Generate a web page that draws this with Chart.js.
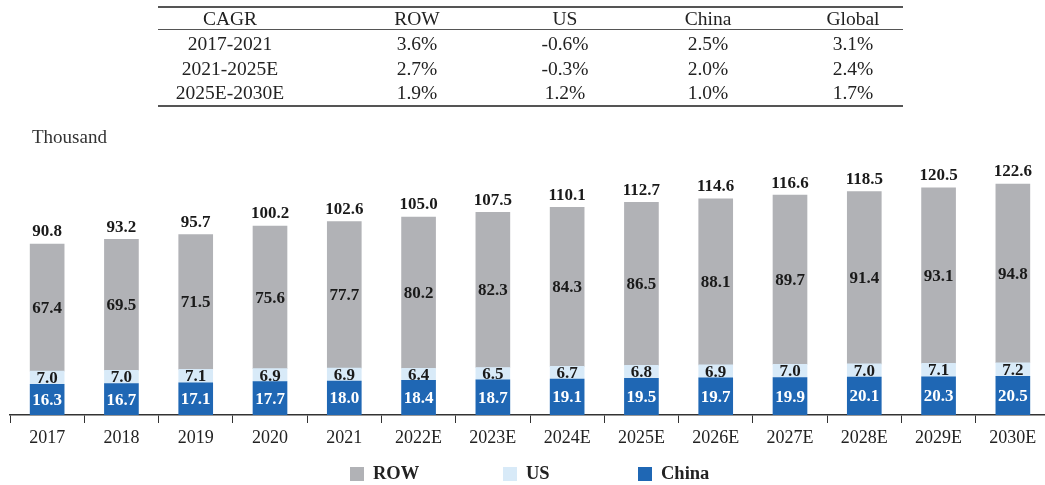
<!DOCTYPE html>
<html>
<head>
<meta charset="utf-8">
<script src="https://cdn.jsdelivr.net/npm/chart.js@4.4.1/dist/chart.umd.min.js"></script>
<style>
  html, body { margin:0; padding:0; background:#fff; overflow:hidden; width:1045px; height:485px; }
  body { position:relative; font-family:"Liberation Serif","DejaVu Serif",serif; color:#222; }
  #wrap { position:absolute; left:0; top:0; width:1052px; height:485px; }
  .cell { position:absolute; transform:translate(-50%,-50%); white-space:nowrap; font-size:19.5px; color:#222; }
  .rule { position:absolute; left:158px; width:745px; background:#555; }
  #unit { position:absolute; left:32px; top:126px; font-size:19px; color:#333; }
  .leg { position:absolute; top:463px; font-size:18.5px; font-weight:bold; color:#222; display:flex; align-items:center; }
  .leg i { display:inline-block; width:14px; height:14px; margin-right:9px; }
</style>
</head>
<body>
<div id="wrap"><canvas id="c" width="1052" height="485"></canvas></div>
<div id="tbl"></div>
<div id="unit">Thousand</div>
<div id="legend"></div>
<script>
// ---- data ----
const categories = ["2017","2018","2019","2020","2021","2022E","2023E","2024E","2025E","2026E","2027E","2028E","2029E","2030E"];
const chinaValues = [16.3,16.7,17.1,17.7,18.0,18.4,18.7,19.1,19.5,19.7,19.9,20.1,20.3,20.5];
const usValues    = [7.0,7.0,7.1,6.9,6.9,6.4,6.5,6.7,6.8,6.9,7.0,7.0,7.1,7.2];
const rowValues   = [67.4,69.5,71.5,75.6,77.7,80.2,82.3,84.3,86.5,88.1,89.7,91.4,93.1,94.8];
const totalValues = [90.8,93.2,95.7,100.2,102.6,105.0,107.5,110.1,112.7,114.6,116.6,118.5,120.5,122.6];

const cagrHeader = ["CAGR","ROW","US","China","Global"];
const cagrPeriods = ["2017-2021","2021-2025E","2025E-2030E"];
const cagrROW    = ["3.6%","2.7%","1.9%"];
const cagrUS     = ["-0.6%","-0.3%","1.2%"];
const cagrChina  = ["2.5%","2.0%","1.0%"];
const cagrGlobal = ["3.1%","2.4%","1.7%"];

// ---- table ----
const colX = [230,417,565,708,853];
const rowY = [19,44,69,93];
const tbl = document.getElementById('tbl');
function addCell(txt,x,y){ const d=document.createElement('div'); d.className='cell'; d.textContent=txt; d.style.left=x+'px'; d.style.top=y+'px'; tbl.appendChild(d); }
cagrHeader.forEach((h,i)=>addCell(h,colX[i],rowY[0]));
const cols = [cagrPeriods,cagrROW,cagrUS,cagrChina,cagrGlobal];
for(let r=0;r<3;r++) cols.forEach((col,i)=>addCell(col[r],colX[i],rowY[r+1]));
[[6,2],[29,1],[105,2]].forEach(([y,h])=>{ const d=document.createElement('div'); d.className='rule'; d.style.top=y+'px'; d.style.height=h+'px'; tbl.appendChild(d); });

// ---- legend ----
const COLORS = { ROW:'#b1b2b6', US:'#d8eaf8', China:'#1f67b4' };
const legendItems = [["ROW",350],["US",503],["China",638]];
const lg = document.getElementById('legend');
legendItems.forEach(([n,x])=>{ const d=document.createElement('div'); d.className='leg'; d.style.left=x+'px'; d.innerHTML='<i style="background:'+COLORS[n]+'"></i>'+n; lg.appendChild(d); });

// ---- labels plugin ----
const labelPlugin = {
  id:'labels',
  afterDatasetsDraw(chart){
    const ctx = chart.ctx;
    ctx.save();
    ctx.textAlign='center'; ctx.textBaseline='middle';
    chart.data.datasets.forEach((ds,di)=>{
      const meta = chart.getDatasetMeta(di);
      meta.data.forEach((bar,i)=>{
        const y = (bar.y + bar.base)/2;
        ctx.font = 'bold 17px "Liberation Serif", serif';
        ctx.fillStyle = ds.labelColor;
        ctx.fillText(ds.data[i].toFixed(1), bar.x, y+1);
      });
    });
    const top = chart.getDatasetMeta(chart.data.datasets.length-1);
    top.data.forEach((bar,i)=>{
      ctx.font = 'bold 17px "Liberation Serif", serif';
      ctx.fillStyle = '#1a1a1a';
      ctx.fillText(totalValues[i].toFixed(1), bar.x, bar.y-12);
    });
    ctx.restore();
  }
};

new Chart(document.getElementById('c'), {
  type:'bar',
  data:{
    labels:categories,
    datasets:[
      {label:'China', data:chinaValues, backgroundColor:COLORS.China, labelColor:'#ffffff'},
      {label:'US', data:usValues, backgroundColor:COLORS.US, labelColor:'#1a1a1a'},
      {label:'ROW', data:rowValues, backgroundColor:COLORS.ROW, labelColor:'#1a1a1a'}
    ]
  },
  options:{
    responsive:false, animation:false,
    layout:{ padding:{ left:10, right:2, top:151, bottom:30 } },
    plugins:{ legend:{display:false}, tooltip:{enabled:false} },
    datasets:{ bar:{ barThickness:34, borderWidth:0 } },
    scales:{
      x:{ stacked:true,
          grid:{ display:true, drawOnChartArea:false, drawTicks:true, tickLength:8, color:'#333', offset:true },
          border:{ display:true, color:'#333', width:1.5 },
          ticks:{ color:'#222', padding:4, font:{ family:'"Liberation Serif", serif', size:18 } },
          afterFit(s){ s.height = 40; } },
      y:{ stacked:true, display:false, min:0, max:140 }
    }
  },
  plugins:[labelPlugin]
});
</script>
</body>
</html>
